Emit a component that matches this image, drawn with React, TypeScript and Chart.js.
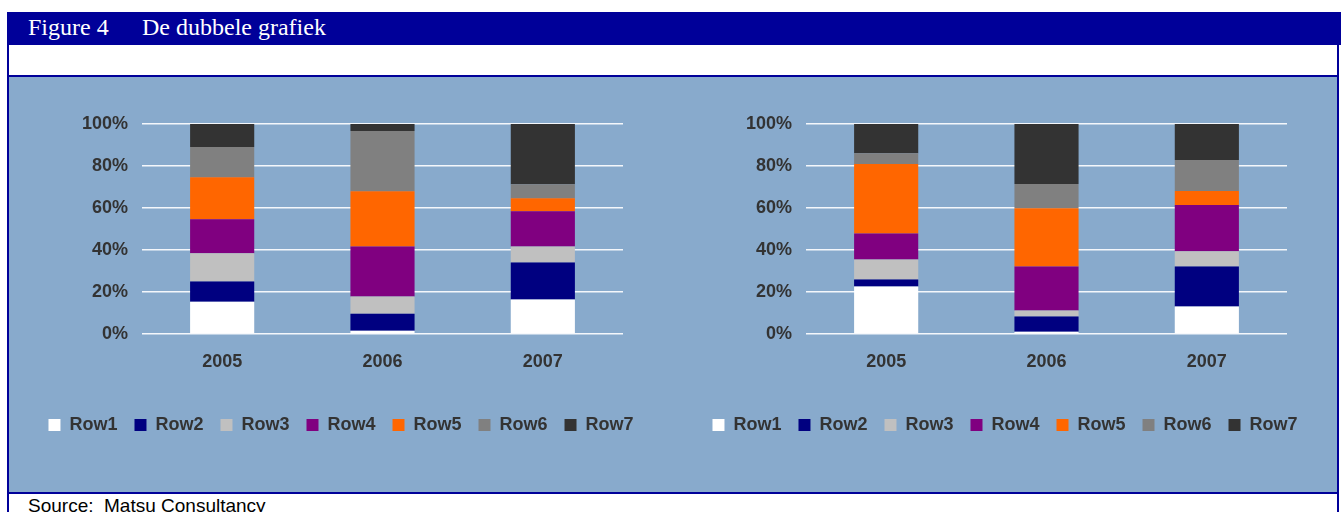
import React, { useEffect, useRef } from "react";
import { Chart, registerables } from "chart.js";

Chart.register(...registerables);

const categories = ["2005", "2006", "2007"];
const seriesLabels = ["Row1", "Row2", "Row3", "Row4", "Row5", "Row6", "Row7"];
const seriesColors = ["#FFFFFF", "#000080", "#C0C0C0", "#800080", "#FF6600", "#808080", "#333333"];
const yTickValues = [0, 20, 40, 60, 80, 100];

// Left chart (percent of total per year)
const leftRow1 = [15.4, 1.6, 16.4];
const leftRow2 = [9.6, 8.1, 17.7];
const leftRow3 = [13.4, 8.1, 7.6];
const leftRow4 = [16.2, 23.9, 16.7];
const leftRow5 = [20.1, 26.3, 6.2];
const leftRow6 = [14.3, 28.7, 6.7];
const leftRow7 = [11.0, 3.3, 28.7];

// Right chart
const rightRow1 = [22.6, 1.1, 13.1];
const rightRow2 = [3.3, 7.2, 19.1];
const rightRow3 = [9.6, 2.9, 7.2];
const rightRow4 = [12.4, 21.0, 22.0];
const rightRow5 = [33.1, 27.7, 6.7];
const rightRow6 = [5.1, 11.5, 14.8];
const rightRow7 = [13.9, 28.6, 17.1];

const leftSeries = [leftRow1, leftRow2, leftRow3, leftRow4, leftRow5, leftRow6, leftRow7];
const rightSeries = [rightRow1, rightRow2, rightRow3, rightRow4, rightRow5, rightRow6, rightRow7];

const FONT = '"Liberation Sans", Arial, sans-serif';
const TEXT = "#333333";
const NAVY = "#000099";
const PANEL = "#88AACC";

function StackedChart({ series, width, height }: { series: number[][]; width: number; height: number }) {
  const ref = useRef<HTMLCanvasElement | null>(null);
  useEffect(() => {
    if (!ref.current) return;
    const chart = new Chart(ref.current, {
      type: "bar",
      data: {
        labels: categories,
        datasets: series.map((d, i) => ({
          label: seriesLabels[i],
          data: d,
          backgroundColor: seriesColors[i],
          borderWidth: 0,
          barPercentage: 0.4,
          categoryPercentage: 1,
        })),
      },
      options: {
        responsive: false,
        animation: false,
        events: [],
        devicePixelRatio: 1,
        font: { family: FONT },
        layout: { padding: { top: 47, left: 10, right: 10, bottom: 48 } },
        scales: {
          x: {
            stacked: true,
            grid: { display: false },
            border: { display: false },
            ticks: { color: TEXT, padding: 9, font: { family: FONT, size: 18, weight: "bold" } },
            afterFit: (s: any) => {
              s.height = 65;
            },
          },
          y: {
            stacked: true,
            min: 0,
            max: 100,
            afterBuildTicks: (s: any) => {
              s.ticks = yTickValues.map((v) => ({ value: v }));
            },
            ticks: {
              color: TEXT,
              padding: 14,
              font: { family: FONT, size: 18, weight: "bold" },
              callback: (v: any) => v + "%",
            },
            grid: { color: "#F4F7FB", lineWidth: 1.5, drawTicks: false },
            border: { display: false },
            afterFit: (s: any) => {
              s.width = 123;
            },
          },
          y2: {
            position: "right",
            display: true,
            ticks: { display: false },
            grid: { display: false, drawTicks: false },
            border: { display: false },
            afterFit: (s: any) => {
              s.width = 40;
            },
          },
        },
        plugins: {
          legend: {
            position: "bottom",
            labels: {
              boxWidth: 12,
              boxHeight: 12,
              padding: 17,
              color: TEXT,
              font: { family: FONT, size: 18, weight: "bold" },
            },
          },
          tooltip: { enabled: false },
        },
      } as any,
    });
    return () => chart.destroy();
  }, [series]);
  return <canvas ref={ref} width={width} height={height} style={{ display: "block", width, height }} />;
}

export default function App() {
  return (
    <div style={{ position: "absolute", left: 0, top: 0, width: 1341, height: 512, overflow: "hidden", background: "#FFFFFF" }}>
      {/* header band */}
      <div style={{ position: "absolute", left: 7, top: 12, width: 1334, height: 33, background: NAVY }} />
      <div
        style={{
          position: "absolute",
          left: 28,
          top: 15,
          fontFamily: '"Liberation Serif", "Times New Roman", serif',
          fontSize: 24,
          lineHeight: "24px",
          color: "#FFFFFF",
          whiteSpace: "nowrap",
        }}
      >
        Figure 4
      </div>
      <div
        style={{
          position: "absolute",
          left: 142,
          top: 15,
          fontFamily: '"Liberation Serif", "Times New Roman", serif',
          fontSize: 24,
          lineHeight: "24px",
          color: "#FFFFFF",
          whiteSpace: "nowrap",
        }}
      >
        De dubbele grafiek
      </div>
      {/* panel */}
      <div style={{ position: "absolute", left: 9, top: 77, width: 1328, height: 415, background: PANEL }}>
        <div style={{ position: "absolute", left: 0, top: 0 }}>
          <StackedChart series={leftSeries} width={664} height={415} />
        </div>
        <div style={{ position: "absolute", left: 664, top: 0 }}>
          <StackedChart series={rightSeries} width={664} height={415} />
        </div>
      </div>
      {/* frame lines */}
      <div style={{ position: "absolute", left: 7, top: 44, width: 2, height: 468, background: NAVY }} />
      <div style={{ position: "absolute", left: 1337, top: 44, width: 2, height: 468, background: NAVY }} />
      <div style={{ position: "absolute", left: 7, top: 75, width: 1332, height: 2, background: NAVY }} />
      <div style={{ position: "absolute", left: 7, top: 492, width: 1332, height: 2, background: NAVY }} />
      <div
        style={{
          position: "absolute",
          left: 28,
          top: 496,
          fontFamily: FONT,
          fontSize: 19,
          lineHeight: "19px",
          color: "#000000",
          whiteSpace: "pre",
        }}
      >
        {"Source:  Matsu Consultancy"}
      </div>
    </div>
  );
}
